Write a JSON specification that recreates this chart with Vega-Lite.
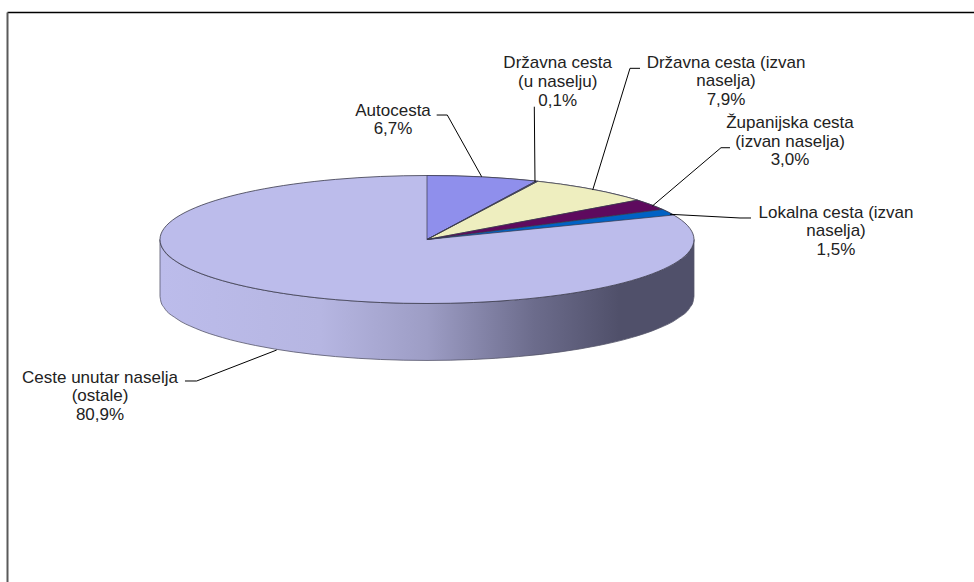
{
"$schema":"https://vega.github.io/schema/vega-lite/v6.json",
"width":967,"height":570,"autosize":"none",
"padding":{"left":7,"top":12,"right":0,"bottom":0},
"background":"white",
"config":{"view":{"stroke":null}},
"datasets":{
"side":[
{"x":1,"top":0,"bottom":-0.89},{"x":0.9962,"top":-0.0872,"bottom":-0.9772},{"x":0.9848,"top":-0.1736,"bottom":-1.0636},{"x":0.9397,"top":-0.342,"bottom":-1.232},{"x":0.866,"top":-0.5,"bottom":-1.39},{"x":0.766,"top":-0.6428,"bottom":-1.5328},{"x":0.6428,"top":-0.766,"bottom":-1.656},{"x":0.5,"top":-0.866,"bottom":-1.756},{"x":0.342,"top":-0.9397,"bottom":-1.8297},{"x":0.1736,"top":-0.9848,"bottom":-1.8748},{"x":0,"top":-1,"bottom":-1.89},{"x":-0.1736,"top":-0.9848,"bottom":-1.8748},{"x":-0.342,"top":-0.9397,"bottom":-1.8297},{"x":-0.5,"top":-0.866,"bottom":-1.756},{"x":-0.6428,"top":-0.766,"bottom":-1.656},{"x":-0.766,"top":-0.6428,"bottom":-1.5328},{"x":-0.866,"top":-0.5,"bottom":-1.39},{"x":-0.9397,"top":-0.342,"bottom":-1.232},{"x":-0.9848,"top":-0.1736,"bottom":-1.0636},{"x":-0.9962,"top":-0.0872,"bottom":-0.9772},{"x":-1,"top":0,"bottom":-0.89}
],
"ellipse":[
{"slice":"Ceste unutar naselja (ostale)","n":0,"x":0,"y":1},{"slice":"Ceste unutar naselja (ostale)","n":1,"x":0.1736,"y":0.9848},{"slice":"Ceste unutar naselja (ostale)","n":2,"x":0.342,"y":0.9397},{"slice":"Ceste unutar naselja (ostale)","n":3,"x":0.5,"y":0.866},{"slice":"Ceste unutar naselja (ostale)","n":4,"x":0.6428,"y":0.766},{"slice":"Ceste unutar naselja (ostale)","n":5,"x":0.766,"y":0.6428},{"slice":"Ceste unutar naselja (ostale)","n":6,"x":0.866,"y":0.5},{"slice":"Ceste unutar naselja (ostale)","n":7,"x":0.9397,"y":0.342},{"slice":"Ceste unutar naselja (ostale)","n":8,"x":0.9848,"y":0.1736},{"slice":"Ceste unutar naselja (ostale)","n":9,"x":1,"y":0},{"slice":"Ceste unutar naselja (ostale)","n":10,"x":0.9848,"y":-0.1736},{"slice":"Ceste unutar naselja (ostale)","n":11,"x":0.9397,"y":-0.342},{"slice":"Ceste unutar naselja (ostale)","n":12,"x":0.866,"y":-0.5},{"slice":"Ceste unutar naselja (ostale)","n":13,"x":0.766,"y":-0.6428},{"slice":"Ceste unutar naselja (ostale)","n":14,"x":0.6428,"y":-0.766},{"slice":"Ceste unutar naselja (ostale)","n":15,"x":0.5,"y":-0.866},{"slice":"Ceste unutar naselja (ostale)","n":16,"x":0.342,"y":-0.9397},{"slice":"Ceste unutar naselja (ostale)","n":17,"x":0.1736,"y":-0.9848},{"slice":"Ceste unutar naselja (ostale)","n":18,"x":0,"y":-1},{"slice":"Ceste unutar naselja (ostale)","n":19,"x":-0.1736,"y":-0.9848},{"slice":"Ceste unutar naselja (ostale)","n":20,"x":-0.342,"y":-0.9397},{"slice":"Ceste unutar naselja (ostale)","n":21,"x":-0.5,"y":-0.866},{"slice":"Ceste unutar naselja (ostale)","n":22,"x":-0.6428,"y":-0.766},{"slice":"Ceste unutar naselja (ostale)","n":23,"x":-0.766,"y":-0.6428},{"slice":"Ceste unutar naselja (ostale)","n":24,"x":-0.866,"y":-0.5},{"slice":"Ceste unutar naselja (ostale)","n":25,"x":-0.9397,"y":-0.342},{"slice":"Ceste unutar naselja (ostale)","n":26,"x":-0.9848,"y":-0.1736},{"slice":"Ceste unutar naselja (ostale)","n":27,"x":-1,"y":0},{"slice":"Ceste unutar naselja (ostale)","n":28,"x":-0.9848,"y":0.1736},{"slice":"Ceste unutar naselja (ostale)","n":29,"x":-0.9397,"y":0.342},{"slice":"Ceste unutar naselja (ostale)","n":30,"x":-0.866,"y":0.5},{"slice":"Ceste unutar naselja (ostale)","n":31,"x":-0.766,"y":0.6428},{"slice":"Ceste unutar naselja (ostale)","n":32,"x":-0.6428,"y":0.766},{"slice":"Ceste unutar naselja (ostale)","n":33,"x":-0.5,"y":0.866},{"slice":"Ceste unutar naselja (ostale)","n":34,"x":-0.342,"y":0.9397},{"slice":"Ceste unutar naselja (ostale)","n":35,"x":-0.1736,"y":0.9848}
],
"wedges":[
{"slice":"Autocesta","n":0,"x":0,"y":0},{"slice":"Autocesta","n":1,"x":0,"y":1},{"slice":"Autocesta","n":2,"x":0.1045,"y":0.9945},{"slice":"Autocesta","n":3,"x":0.2079,"y":0.9781},{"slice":"Autocesta","n":4,"x":0.309,"y":0.9511},{"slice":"Autocesta","n":5,"x":0.4083,"y":0.9128},{"slice":"Autocesta","n":6,"x":0,"y":0},
{"slice":"Državna cesta (izvan naselja)","n":0,"x":0,"y":0},{"slice":"Državna cesta (izvan naselja)","n":1,"x":0.4147,"y":0.91},{"slice":"Državna cesta (izvan naselja)","n":2,"x":0.5,"y":0.866},{"slice":"Državna cesta (izvan naselja)","n":3,"x":0.5878,"y":0.809},{"slice":"Državna cesta (izvan naselja)","n":4,"x":0.6691,"y":0.7431},{"slice":"Državna cesta (izvan naselja)","n":5,"x":0.7431,"y":0.6691},{"slice":"Državna cesta (izvan naselja)","n":6,"x":0.788,"y":0.6157},{"slice":"Državna cesta (izvan naselja)","n":7,"x":0,"y":0},
{"slice":"Državna cesta (u naselju)","n":0,"x":0,"y":0},{"slice":"Državna cesta (u naselju)","n":1,"x":0.4083,"y":0.9128},{"slice":"Državna cesta (u naselju)","n":2,"x":0.4147,"y":0.91},{"slice":"Državna cesta (u naselju)","n":3,"x":0,"y":0},
{"slice":"Županijska cesta (izvan naselja)","n":0,"x":0,"y":0},{"slice":"Županijska cesta (izvan naselja)","n":1,"x":0.788,"y":0.6157},{"slice":"Županijska cesta (izvan naselja)","n":2,"x":0.8387,"y":0.5446},{"slice":"Županijska cesta (izvan naselja)","n":3,"x":0.8829,"y":0.4695},{"slice":"Županijska cesta (izvan naselja)","n":4,"x":0,"y":0},
{"slice":"Lokalna cesta (izvan naselja)","n":0,"x":0,"y":0},{"slice":"Lokalna cesta (izvan naselja)","n":1,"x":0.8829,"y":0.4695},{"slice":"Lokalna cesta (izvan naselja)","n":2,"x":0.9063,"y":0.4226},{"slice":"Lokalna cesta (izvan naselja)","n":3,"x":0.9239,"y":0.3827},{"slice":"Lokalna cesta (izvan naselja)","n":4,"x":0,"y":0}
],
"leaders":[
{"slice":"Autocesta","n":0,"x":0.0363,"y":1.945},{"slice":"Autocesta","n":1,"x":0.076,"y":1.945},{"slice":"Autocesta","n":2,"x":0.2049,"y":0.981},
{"slice":"Državna cesta (u naselju)","n":0,"x":0.4019,"y":2.075},{"slice":"Državna cesta (u naselju)","n":1,"x":0.4045,"y":0.903},
{"slice":"Državna cesta (izvan naselja)","n":0,"x":0.7978,"y":2.675},{"slice":"Državna cesta (izvan naselja)","n":1,"x":0.7603,"y":2.675},{"slice":"Državna cesta (izvan naselja)","n":2,"x":0.6206,"y":0.773},
{"slice":"Županijska cesta (izvan naselja)","n":0,"x":1.1348,"y":1.434},{"slice":"Županijska cesta (izvan naselja)","n":1,"x":1.1011,"y":1.434},{"slice":"Županijska cesta (izvan naselja)","n":2,"x":0.8438,"y":0.523},
{"slice":"Lokalna cesta (izvan naselja)","n":0,"x":1.2135,"y":0.336},{"slice":"Lokalna cesta (izvan naselja)","n":1,"x":1.1723,"y":0.336},{"slice":"Lokalna cesta (izvan naselja)","n":2,"x":0.9101,"y":0.394},
{"slice":"Ceste unutar naselja (ostale)","n":0,"x":-0.9064,"y":-2.211},{"slice":"Ceste unutar naselja (ostale)","n":1,"x":-0.8625,"y":-2.211},{"slice":"Ceste unutar naselja (ostale)","n":2,"x":-0.5629,"y":-1.727}
],
"labels":[
{"label":"Autocesta\n6,7%","value":6.7,"x":-0.1273,"y":2.0125},
{"label":"Državna cesta\n(u naselju)\n0,1%","value":0.1,"x":0.4895,"y":2.753},
{"label":"Državna cesta (izvan\nnaselja)\n7,9%","value":7.9,"x":1.1199,"y":2.763},
{"label":"Županijska cesta\n(izvan naselja)\n3,0%","value":3.0,"x":1.3596,"y":1.82},
{"label":"Lokalna cesta (izvan\nnaselja)\n1,5%","value":1.5,"x":1.5318,"y":0.419},
{"label":"Ceste unutar naselja\n(ostale)\n80,9%","value":80.9,"x":-1.2247,"y":-2.159}
]
},
"layer":[
{"data":{"name":"side"},
 "mark":{"type":"area","interpolate":"monotone","stroke":"#55556a","strokeWidth":0.8,
  "color":{"gradient":"linear","x1":0,"x2":1,"y1":0,"y2":0,"stops":[{"offset":0,"color":"#bcbceb"},{"offset":0.3,"color":"#b6b6e2"},{"offset":0.5,"color":"#9d9dc5"},{"offset":0.7,"color":"#6c6c8c"},{"offset":0.86,"color":"#50506a"},{"offset":1,"color":"#50506a"}]}},
 "encoding":{
  "x":{"field":"x","type":"quantitative","scale":{"domain":[-1.573,2.0487],"nice":false,"zero":false},
    "axis":{"orient":"top","title":null,"labels":false,"ticks":false,"grid":false,"domain":true,"domainColor":"#000000","domainWidth":1.6}},
  "y":{"field":"bottom","type":"quantitative","scale":{"domain":[-5.352,3.555],"nice":false,"zero":false},
    "axis":{"orient":"left","title":null,"labels":false,"ticks":false,"grid":false,"domain":true,"domainColor":"#5a5a5a","domainWidth":2}},
  "y2":{"field":"top"}
 }},
{"data":{"name":"ellipse"},
 "mark":{"type":"line","interpolate":"cardinal-closed","stroke":"#3a3a4a","strokeWidth":0.8},
 "encoding":{"x":{"field":"x","type":"quantitative"},"y":{"field":"y","type":"quantitative"},"order":{"field":"n"},
  "fill":{"field":"slice","type":"nominal","legend":null,"scale":{"domain":["Autocesta","Državna cesta (u naselju)","Državna cesta (izvan naselja)","Županijska cesta (izvan naselja)","Lokalna cesta (izvan naselja)","Ceste unutar naselja (ostale)"],"range":["#8f8fec","#5a5a7a","#eeeebf","#5e0a5e","#0062c4","#bcbceb"]}}}},
{"data":{"name":"wedges"},
 "mark":{"type":"line","stroke":"#3a3a4a","strokeWidth":0.7},
 "encoding":{"x":{"field":"x","type":"quantitative"},"y":{"field":"y","type":"quantitative"},"order":{"field":"n"},
  "fill":{"field":"slice","type":"nominal","legend":null}}},
{"data":{"name":"leaders"},
 "mark":{"type":"line","stroke":"#000000","strokeWidth":1},
 "encoding":{"x":{"field":"x","type":"quantitative"},"y":{"field":"y","type":"quantitative"},"order":{"field":"n"},"detail":{"field":"slice"}}},
{"data":{"name":"labels"},
 "mark":{"type":"text","font":"Liberation Sans","fontSize":17,"lineHeight":18.7,"lineBreak":"\n","align":"center","baseline":"middle","color":"#222222"},
 "encoding":{"x":{"field":"x","type":"quantitative"},"y":{"field":"y","type":"quantitative"},"text":{"field":"label"}}}
]
}
